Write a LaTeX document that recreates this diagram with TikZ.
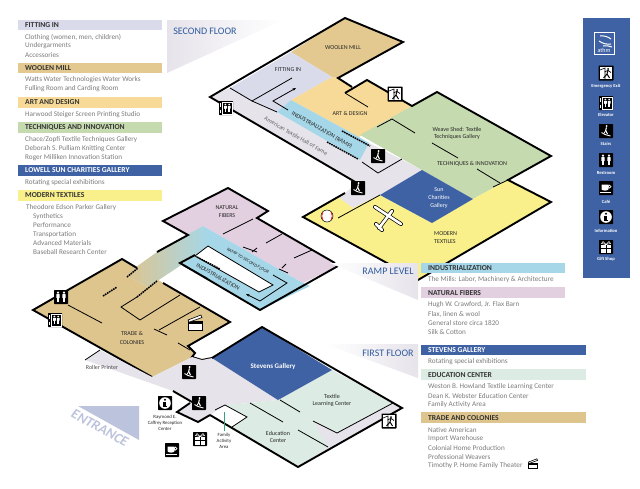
\documentclass[tikz,border=0pt]{standalone}
\usepackage{fontspec}
\setmainfont{Carlito}
\usetikzlibrary{arrows.meta}
\definecolor{c_fitting}{HTML}{D9DBEA}
\definecolor{c_woolen}{HTML}{E3C98F}
\definecolor{c_art}{HTML}{F8DA98}
\definecolor{c_tech}{HTML}{C6DAAF}
\definecolor{c_blue}{HTML}{3F62A4}
\definecolor{c_yellow}{HTML}{F9F08C}
\definecolor{c_ramp}{HTML}{A6D7E8}
\definecolor{c_natural}{HTML}{E2CFE0}
\definecolor{c_mint}{HTML}{DCECE4}
\definecolor{c_trade}{HTML}{DEC48D}
\definecolor{c_pale}{HTML}{E6E3EA}
\definecolor{c_title}{HTML}{2F5A9E}
\definecolor{c_body}{HTML}{7C7C7C}
\definecolor{c_entrance}{HTML}{BCC3DC}
\definecolor{c_family}{HTML}{2FA57A}
\tikzset{
        % Legend bars and lines
        bar_head/.style={anchor=west, font=\fontsize{7.6}{8}\selectfont\bfseries, text=black!80, inner sep=0pt},
        bar_line/.style={anchor=west, font=\fontsize{7.2}{8}\selectfont, text=c_body, inner sep=0pt},
        % Floor titles
        floor_title/.style={font=\fontsize{10}{10}\selectfont, text=c_title, inner sep=0pt},
        % Labels on the plan
        room_label/.style={align=center, font=\fontsize{6}{7}\selectfont, text=black!85, inner sep=0pt},
        room_white/.style={room_label, text=white},
        % Sidebar labels
        side_label/.style={font=\fontsize{4.6}{5}\selectfont\bfseries, text=white, inner sep=0pt},
        % Walls
        wall/.style={black, line width=1.9pt, line join=miter},
        thin_wall/.style={black, line width=0.8pt},
        ramp_dash/.style={black, line width=1.5pt, dash pattern=on 1.6pt off 0.8pt},
        % Icons
        icon_black/.pic={\fill[black, rounded corners=0.6pt] (-7,-7) rectangle (7,7);},
        icon_stairs/.pic={
            \pic {icon_black};
            \draw[white, line width=0.9pt] (-4.5,1.5) -- (-1,3.5) -- (4.5,5);
            \fill[white] (0.6,-5) circle (1.1);
            \draw[white, line width=1.1pt] (0.4,-3.6) -- (-0.3,-0.5) -- (1.5,3);
            \draw[white, line width=0.8pt] (-0.3,-0.5) -- (-2,2.4);
        },
        icon_exit/.pic={
            \fill[black, rounded corners=0.6pt] (-7.5,-7.5) rectangle (7.5,7.5);
            \fill[white] (-6,-6) rectangle (6,6);
            \draw[black, line width=0.6pt] (-6,-3) -- (-1,-5) -- (-1,6);
            \fill[black] (2,-4) circle (1);
            \draw[black, line width=1pt] (2,-2.6) -- (1,1) -- (3.5,5) (1,1) -- (-2.5,5);
            \draw[black, line width=0.7pt] (-1.5,-1) -- (2,-2.6) -- (5,-0.5);
        },
        icon_person/.pic={
            \fill[white] (0,-4.4) circle (1.2);
            \fill[white, rounded corners=0.4pt] (-1.7,-2.8) rectangle (1.7,1);
            \fill[white] (-1.1,1) rectangle (1.1,5);
        },
        icon_elevator/.pic={
            \pic {icon_black};
            \draw[white, line width=0.5pt] (-3.6,-6) rectangle (5.8,6);
            \pic[scale=0.8] at (-0.6,0) {icon_person};
            \pic[scale=0.8] at (3.2,0) {icon_person};
            \draw[white, line width=0.5pt] (-5.3,-5) -- (-5.3,-1.5) (-5.3,1.5) -- (-5.3,5);
        },
        icon_restroom/.pic={
            \pic {icon_black};
            \pic at (-3,0) {icon_person};
            \pic at (3,0) {icon_person};
        },
        icon_cafe/.pic={
            \pic {icon_black};
            \fill[white] (-4.5,-3.5) rectangle (2.5,1) arc[start angle=0, end angle=180, x radius=3.5, y radius=1.6] -- cycle;
            \draw[white, line width=0.7pt] (3.5,-1.5) circle (1.5);
            \fill[white] (-6,3.6) rectangle (4.5,4.8);
        },
        icon_info/.pic={
            \pic {icon_black};
            \fill[white] (0,0) circle (5.8);
            \fill[black] (0,-3.2) circle (1.1);
            \fill[black] (-1.8,-1.4) rectangle (1.1,3.2);
            \fill[black] (-1.8,2.8) rectangle (2,4.1);
        },
        icon_gift/.pic={
            \pic {icon_black};
            \fill[white] (-5,-2) rectangle (5,6);
            \draw[black, line width=0.9pt] (0,-2) -- (0,6) (-5,1) -- (5,1);
            \draw[white, line width=0.5pt] (0,-2.5) -- (-3,-5.5) -- (-4.5,-3.5) -- cycle (0,-2.5) -- (3,-5.5) -- (4.5,-3.5) -- cycle;
        },
        icon_clapper/.pic={
            \draw[black, fill=white, line width=0.6pt] (-7,-1.5) rectangle (7,7);
            \fill[black] (-7,-1.5) rectangle (7,1);
            \draw[black, fill=white, line width=0.6pt] (-7,-3) -- (6,-8) -- (7,-5.5) -- (-6,-0.8) -- cycle;
        }
}
\begin{document}
\begin{tikzpicture}[x=1pt, y=-1pt]
\useasboundingbox (0,0) rectangle (640,488);
\fill[white] (0,0) rectangle (640,488);

% Wedge behind the second floor title
\shade[left color=c_pale, right color=white] (167,20) -- (283,20) -- (167,73) -- cycle;

% Second floor fills
\fill[c_pale] (210,97) -- (230,88) -- (277,112) -- (360,160) -- (369,143) -- (422,170) -- (380,195) -- (353,208) -- (338,197) -- (345,193) -- (357,183) -- cycle;
\fill[c_woolen] (291,52) -- (345,18) -- (403,42) -- (338,78) -- (332,77) -- cycle;
\fill[c_fitting] (230,88) -- (291,52) -- (332,77) -- (291,100) -- (277,112) -- (252,101) -- cycle;
\fill[c_art] (332,77) -- (338,78) -- (352,87) -- (345,93) -- (367,80) -- (412,106) -- (359,137) -- (291,100) -- cycle;
\fill[c_ramp] (291,100) -- (359,137) -- (369,143) -- (360,160) -- (277,112) -- cycle;
\fill[c_tech] (437,92) -- (551,156) -- (508,180) -- (473,199) -- (422,170) -- (360,135) -- cycle;
\fill[c_yellow] (303,217) -- (338,197) -- (353,208) -- (380,195) -- (432,223) -- (473,199) -- (508,180) -- (551,202) -- (418,280) -- cycle;
\fill[c_blue] (422,170) -- (473,199) -- (432,223) -- (380,195) -- cycle;

% Second floor walls
\draw[wall] (357,183) -- (210,97) -- (345,18) -- (403,42) -- (338,78) -- (352,87);
\draw[wall] (345,93) -- (367,80) -- (412,106) -- (437,92) -- (551,156) -- (508,180) -- (551,202) -- (418,280) -- (303,217) -- (345,193);
\draw[thin_wall] (230,88) -- (252,101) -- (292,78);
\draw[thin_wall] (345,93) -- (368,107);
\draw[thin_wall] (377,127) -- (392,119) -- (415,133);
\draw[thin_wall] (432,143) -- (458,158);
\draw[thin_wall] (477,169) -- (500,183);
\draw[thin_wall] (493,187) -- (508,180);
\draw[thin_wall] (338,218) -- (380,195);
\draw[thin_wall] (362,162) -- (378,173) -- (402,159);
\draw[thin_wall] (252,101) -- (277,112);
\draw[thin_wall, -{Stealth[length=3.5pt]}] (288,110) -- (273,101) -- (296,88);
\draw[ramp_dash] (342,131) -- (370,146);
\draw[ramp_dash] (327,142) -- (358,159);

% Second floor labels
\node[room_label] (woolen_mill) at (343,48) {WOOLEN MILL};
\node[room_label] (fitting_in) at (288,70) {FITTING IN};
\node[room_label] (art_design) at (350,113) {ART \& DESIGN};
\node[room_label, rotate=-30] (ind_ramp) at (322,130) {INDUSTRIALIZATION (RAMP)};
\node[room_label, rotate=-30, text=black!60] (hall_fame) at (296,136) {American Textile Hall of Fame};
\node[room_label] (weave_shed) at (457,133) {Weave Shed: Textile\\Techniques Gallery};
\node[room_label] (tech_innov) at (472,164) {TECHNIQUES \& INNOVATION};
\node[room_white] (sun_gallery) at (439,198) {Sun\\[1pt]Charities\\[1pt]Gallery};
\node[room_label, align=left, anchor=west] (modern_text) at (434,238) {MODERN\\[1pt]TEXTILES};

% Plane and baseball
\draw[black, line width=4pt, line cap=round] (375,207) -- (401,224) (392,211) -- (379,228) (376,224) -- (382,230);
\draw[white, line width=2.6pt, line cap=round] (375,207) -- (401,224) (392,211) -- (379,228) (376,224) -- (382,230);
\draw[black, fill=white, line width=0.5pt] (327,216) circle (6) node (baseball) {};
\draw[red, line width=0.6pt] (323,212) to[bend right=30] (323,220) (331,212) to[bend left=30] (331,220);

% Ramp level fills
\fill[c_natural] (163,221) -- (228,188) -- (268,211) -- (257,218) -- (335,263) -- (338,266) -- (303,283) -- (203,226) -- (188,235) -- cycle;
\fill[c_trade] (33,310) -- (122,259) -- (137,268) -- (125,275) -- (148,287) -- (157,279) -- (163,283) -- (230,322) -- (188,346) -- (195,353) -- (192,357) -- (152,377) -- cycle;
\fill[c_ramp] (203,226) -- (303,283) -- (310,286) -- (260,310) -- (180,263) -- (195,253) -- cycle;
\shade[left color=c_trade, right color=c_ramp, shading angle=90] (203,226) -- (157,252) -- (125,275) -- (148,287) -- (195,256) -- (208,246) -- cycle;
\fill[white] (195,256) -- (208,246) -- (273,285) -- (259,292) -- cycle;

% Ramp level walls
\draw[wall] (157,252) -- (188,235) -- (163,221) -- (228,188) -- (268,211) -- (257,218) -- (335,263);
\draw[wall] (338,266) -- (260,310) -- (180,263) -- (195,255);
\draw[wall] (137,268) -- (122,259) -- (33,310) -- (152,377);
\draw[wall] (163,283) -- (230,322) -- (188,346) -- (195,353) -- (192,357) -- (202,360) -- (212,358);
\draw[thin_wall] (208,246) -- (273,285) -- (259,292) -- (195,256) -- cycle;
\draw[thin_wall] (223,234) -- (253,219);
\draw[thin_wall] (266,243) -- (282,234);
\draw[thin_wall] (243,247) -- (257,252) (252,252) -- (257,248);
\draw[thin_wall] (279,269) -- (288,273) (282,268) -- (286,264);
\draw[thin_wall] (294,258) -- (312,250);
\draw[thin_wall, -{Stealth[length=3.5pt]}] (273,275) -- (287,283) -- (260,301) -- (246,294);
\draw[thin_wall] (68,305) -- (102,323);
\draw[thin_wall] (137,297) -- (121,307) -- (140,320) -- (180,295);
\draw[thin_wall] (154,329) -- (167,335);
\draw[thin_wall] (159,330) -- (200,307);
\draw[thin_wall] (178,343) -- (190,350);
\draw[ramp_dash] (103,296) -- (117,287);
\draw[ramp_dash] (127,277) -- (138,268);
\draw[ramp_dash] (137,297) -- (157,281);
\draw[ramp_dash] (197,257) -- (220,269);
\draw[ramp_dash] (183,265) -- (208,279);

% Ramp level labels
\node[room_label] (natural_fibers) at (227,212) {NATURAL\\[1pt]FIBERS};
\node[room_label, rotate=-30, font=\fontsize{4.6}{5}\selectfont] (ramp_second) at (248,261) {RAMP TO SECOND FLOOR};
\node[room_label, rotate=-30] (ind_label) at (218,277) {INDUSTRIALIZATION};
\node[room_label] (trade_col) at (132,338) {TRADE \&\\[1.5pt]COLONIES};

% First floor fills
\fill[c_pale] (85,360) -- (100,350) -- (152,377) -- (192,357) -- (202,360) -- (212,358) -- (278,400) -- (250,403) -- (225,405) -- (210,415) -- (198,422) -- (177,412) -- (190,403) -- (192,401) -- (173,391) -- cycle;
\fill[c_mint] (278,400) -- (332,370) -- (393,403) -- (328,447) -- (298,467) -- (232,427) -- (247,417) -- (225,405) -- (250,403) -- cycle;
\fill[c_pale] (402,408) -- (393,403) -- (337,433) -- (313,421) -- (328,447) -- (298,467) -- cycle;
\fill[c_blue] (262,327) -- (332,370) -- (278,400) -- (212,358) -- cycle;

% First floor walls
\draw[wall] (212,358) -- (262,327) -- (402,408) -- (298,467) -- (210,415);
\draw[wall] (173,391) -- (192,402);
\draw[wall] (190,403) -- (177,412) -- (198,422) -- (210,415);
\draw[thin_wall] (85,360) -- (100,350);
\draw[thin_wall] (215,410) -- (225,405) -- (247,417) -- (232,427);
\draw[thin_wall] (250,403) -- (283,422);
\draw[thin_wall] (298,430) -- (328,447);
\draw[thin_wall] (280,400) -- (300,412);
\draw[thin_wall] (313,421) -- (337,433) -- (393,403);
\draw[c_family, line width=1pt] (224,412) -- (224,431);

% First floor labels
\node[room_label, text=black!70] (roller_printer) at (102,367) {Roller Printer};
\node[room_white, font=\fontsize{7}{8}\selectfont\bfseries] (stevens_gal) at (273,367) {Stevens Gallery};
\node[room_label] (textile_lc) at (332,400) {Textile\\Learning Center};
\node[room_label] (education_c) at (278,437) {Education\\Center};
\node[room_label, font=\fontsize{4.8}{6}\selectfont] (reception) at (165,423) {Raymond E.\\Caffrey Reception\\Center};
\node[room_label, font=\fontsize{4.8}{6}\selectfont] (family_area) at (224,441) {Family\\Activity\\Area};

% Entrance
\fill[c_entrance] (78,406) -- (139,406) -- (139,440) -- cycle;
\node[rotate=-29, font=\fontsize{14}{14}\selectfont\bfseries\itshape, text=c_entrance, inner sep=0pt] (entrance) at (100,428) {ENTRANCE};

% Wedges over the plan, behind the other floor titles
\shade[left color=white, right color=c_pale] (330,263) -- (418,263) -- (418,300) -- cycle;
\shade[left color=white, right color=c_pale] (325,344) -- (418,344) -- (418,378) -- cycle;

% Floor titles
\node[floor_title] (second_floor) at (205,31) {SECOND FLOOR};
\node[floor_title] (ramp_level) at (388,271) {RAMP LEVEL};
\node[floor_title] (first_floor) at (388,353) {FIRST FLOOR};

% Left legend
\fill[c_fitting] (18,20) rectangle (162,30);
\node[bar_head] (head_fitting) at (25,25.5) {FITTING IN};
\node[bar_line] (fit_a) at (25,37) {Clothing (women, men, children)};
\node[bar_line] (fit_b) at (25,46) {Undergarments};
\node[bar_line] (fit_c) at (25,55) {Accessories};
\fill[c_woolen] (18,63) rectangle (162,73);
\node[bar_head] (head_woolen) at (25,68.5) {WOOLEN MILL};
\node[bar_line] (wool_a) at (25,80) {Watts Water Technologies Water Works};
\node[bar_line] (wool_b) at (25,89) {Fulling Room and Carding Room};
\fill[c_art] (18,97) rectangle (162,108);
\node[bar_head] (head_art) at (25,102.5) {ART AND DESIGN};
\node[bar_line] (art_a) at (25,115) {Harwood Steiger Screen Printing Studio};
\fill[c_tech] (18,122) rectangle (162,133);
\node[bar_head] (head_tech) at (25,127.5) {TECHNIQUES AND INNOVATION};
\node[bar_line] (tech_a) at (25,140) {Chace/Zopfi Textile Techniques Gallery};
\node[bar_line] (tech_b) at (25,149) {Deborah S. Pulliam Knitting Center};
\node[bar_line] (tech_c) at (25,158) {Roger Milliken Innovation Station};
\fill[c_blue] (18,165) rectangle (162,176);
\node[bar_head, text=white] (head_sun) at (25,170.5) {LOWELL SUN CHARITIES GALLERY};
\node[bar_line] (sun_a) at (25,183) {Rotating special exhibitions};
\fill[c_yellow] (18,190) rectangle (162,201);
\node[bar_head] (head_modern) at (25,195.5) {MODERN TEXTILES};
\node[bar_line] (mod_a) at (26,207.5) {Theodore Edson Parker Gallery};
\node[bar_line] (mod_b) at (33,216.5) {Synthetics};
\node[bar_line] (mod_c) at (33,225.5) {Performance};
\node[bar_line] (mod_d) at (33,234.5) {Transportation};
\node[bar_line] (mod_e) at (33,243.5) {Advanced Materials};
\node[bar_line] (mod_f) at (33,252.5) {Baseball Research Center};

% Right legend
\fill[c_ramp] (421,263) rectangle (565,273);
\node[bar_head] (head_ind) at (428,268) {INDUSTRIALIZATION};
\node[bar_line] (ind_a) at (428,280) {The Mills: Labor, Machinery \& Architecture};
\fill[c_natural] (421,287) rectangle (565,298);
\node[bar_head] (head_nat) at (428,293) {NATURAL FIBERS};
\node[bar_line] (nat_a) at (428,305) {Hugh W. Crawford, Jr. Flax Barn};
\node[bar_line] (nat_b) at (428,314) {Flax, linen \& wool};
\node[bar_line] (nat_c) at (428,323) {General store circa 1820};
\node[bar_line] (nat_d) at (428,332) {Silk \& Cotton};
\fill[c_blue] (421,345) rectangle (586,355);
\node[bar_head, text=white] (head_stev) at (428,350.5) {STEVENS GALLERY};
\node[bar_line] (stev_a) at (428,362) {Rotating special exhibitions};
\fill[c_mint] (421,369) rectangle (586,380);
\node[bar_head] (head_edu) at (428,375) {EDUCATION CENTER};
\node[bar_line] (edu_a) at (428,387) {Weston B. Howland Textile Learning Center};
\node[bar_line] (edu_b) at (428,396) {Dean K. Webster Education Center};
\node[bar_line] (edu_c) at (428,405) {Family Activity Area};
\fill[c_trade] (421,412) rectangle (586,423);
\node[bar_head] (head_trade) at (428,418) {TRADE AND COLONIES};
\node[bar_line] (tr_a) at (428,430) {Native American};
\node[bar_line] (tr_b) at (428,439) {Import Warehouse};
\node[bar_line] (tr_c) at (428,448) {Colonial Home Production};
\node[bar_line] (tr_d) at (428,457) {Professional Weavers};
\node[bar_line] (tr_e) at (428,466) {Timothy P. Home Family Theater};
\pic[scale=0.65] at (533,464) {icon_clapper};

% Sidebar
\fill[c_blue] (583,18) rectangle (630,278);
\draw[white, line width=0.4pt] (594,32) rectangle (614,54);
\draw[white, line width=1pt] (600,36) to[bend left=20] (611,39) (599,41) to[bend right=20] (611,44) (603,46) to[bend left=15] (612,47);
\node[inner sep=0pt, font=\fontsize{6}{6}\selectfont, text=white] (logo_text) at (604,50.5) {athm};
\pic at (606,73) {icon_exit};
\node[side_label] (side_exit) at (606,86) {Emergency Exit};
\pic at (606,103) {icon_elevator};
\node[side_label] (side_elev) at (606,115) {Elevator};
\pic at (606,131) {icon_stairs};
\node[side_label] (side_stairs) at (606,144) {Stairs};
\pic at (606,160) {icon_restroom};
\node[side_label] (side_rest) at (606,173) {Restroom};
\pic at (606,188) {icon_cafe};
\node[side_label] (side_cafe) at (606,202) {Café};
\pic at (606,217) {icon_info};
\node[side_label] (side_info) at (606,231) {Information};
\pic at (606,247) {icon_gift};
\node[side_label] (side_gift) at (606,259) {Gift Shop};

% Icons on the plan
\pic at (395,94) {icon_exit};
\pic at (226,108) {icon_elevator};
\pic at (378,156) {icon_stairs};
\pic at (358,188) {icon_stairs};
\pic at (61,297) {icon_restroom};
\pic at (55,320) {icon_elevator};
\pic at (195,323) {icon_clapper};
\pic at (189,372) {icon_stairs};
\pic at (199,403) {icon_stairs};
\pic at (165,403) {icon_info};
\pic at (200,439) {icon_gift};
\pic at (172,450) {icon_cafe};
\pic at (389,421) {icon_exit};
\end{tikzpicture}
\end{document}
